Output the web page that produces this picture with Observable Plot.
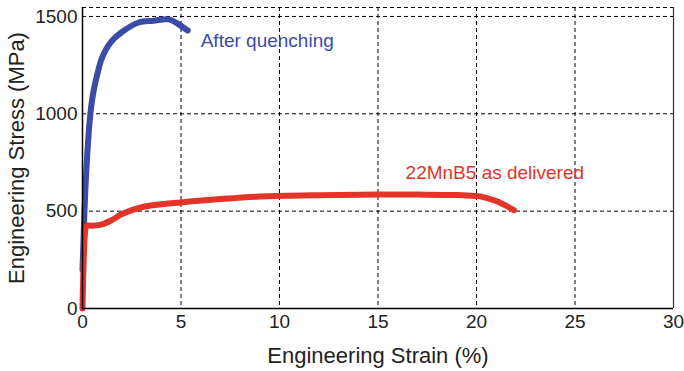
<!DOCTYPE html>
<html><head><meta charset="utf-8">
<script src="https://cdn.jsdelivr.net/npm/d3@7"></script>
<script src="https://cdn.jsdelivr.net/npm/@observablehq/plot@0.6"></script>
<style>
html,body{margin:0;padding:0;background:#fff;}
svg{font-family:"Liberation Sans",Arial,sans-serif;}
</style></head>
<body><div id="chart"></div>
<script>
const quenchStrain = [0, 0.05, 0.1, 0.2, 0.3, 0.4, 0.55, 0.76, 1.0, 1.42, 2.0, 2.85, 3.6, 4.37, 4.8, 5.34];
const quenchStress = [200, 350, 500, 720, 880, 1000, 1110, 1207, 1290, 1366, 1420, 1469, 1478, 1485, 1465, 1428];
const deliveredStrain = [0, 0.15, 0.2, 0.5, 1.0, 1.5, 2.0, 3.0, 4.0, 5.0, 7.0, 9.0, 12, 15, 17, 19, 20.1, 21, 21.9];
const deliveredStress = [0, 410, 425, 425, 432, 455, 485, 520, 535, 545, 562, 575, 582, 585, 585, 583, 577, 552, 505];
const xTicks = [0, 5, 10, 15, 20, 25, 30];
const yTicks = [0, 500, 1000, 1500];
const labels = [
  {name: "After quenching", x: 6.0, y: 1375, color: "#3a4ca6"},
  {name: "22MnB5 as delivered", x: 16.4, y: 695, color: "#e3342a"}
];
const blue = "#3a4ca6", red = "#e3342a";
const yMax = 1546;

const quench = quenchStrain.map((x, i) => ({x, y: quenchStress[i]}));
const delivered = deliveredStrain.map((x, i) => ({x, y: deliveredStress[i]}));
const dash = "4,3";
const ink = "#222";

const chart = Plot.plot({
  width: 684, height: 371,
  marginLeft: 82, marginRight: 11, marginTop: 7, marginBottom: 63,
  style: {fontFamily: "'Liberation Sans', Arial, sans-serif", color: ink},
  x: {domain: [0, 30], axis: null},
  y: {domain: [0, yMax], axis: null},
  marks: [
    Plot.ruleX(xTicks.filter(d => d > 0 && d < 30), {stroke: "#000", strokeWidth: 1, strokeDasharray: dash}),
    Plot.ruleY(yTicks.filter(d => d > 0), {stroke: "#000", strokeWidth: 1, strokeDasharray: dash}),
    Plot.ruleY([yMax], {stroke: "#000", strokeWidth: 1, strokeDasharray: dash}),
    Plot.ruleX([30], {stroke: "#333", strokeWidth: 1.2}),
    Plot.line(quench, {x: "x", y: "y", stroke: blue, strokeWidth: 6, curve: "catmull-rom"}),
    Plot.line(delivered, {x: "x", y: "y", stroke: red, strokeWidth: 6, curve: "catmull-rom"}),
    Plot.ruleX([0], {stroke: "#000", strokeWidth: 1.5}),
    Plot.ruleY([0], {stroke: "#000", strokeWidth: 1.5}),
    Plot.text(labels, {x: "x", y: "y", text: "name", fill: "color", textAnchor: "start", fontSize: 19}),
    Plot.text(xTicks, {x: d => d, text: d => String(d), frameAnchor: "bottom", lineAnchor: "top", dy: 6, fontSize: 19, fill: ink}),
    Plot.text(yTicks, {y: d => d, text: d => String(d), frameAnchor: "left", textAnchor: "end", dx: -5, fontSize: 19, fill: ink}),
    Plot.text(["Engineering Strain (%)"], {frameAnchor: "bottom", lineAnchor: "middle", textAnchor: "middle", dy: 47, fontSize: 22, fill: ink}),
    Plot.text(["Engineering Stress (MPa)"], {frameAnchor: "left", textAnchor: "middle", lineAnchor: "middle", dx: -66, rotate: -90, fontSize: 22, fill: ink})
  ]
});
document.getElementById("chart").appendChild(chart);
</script></body></html>
